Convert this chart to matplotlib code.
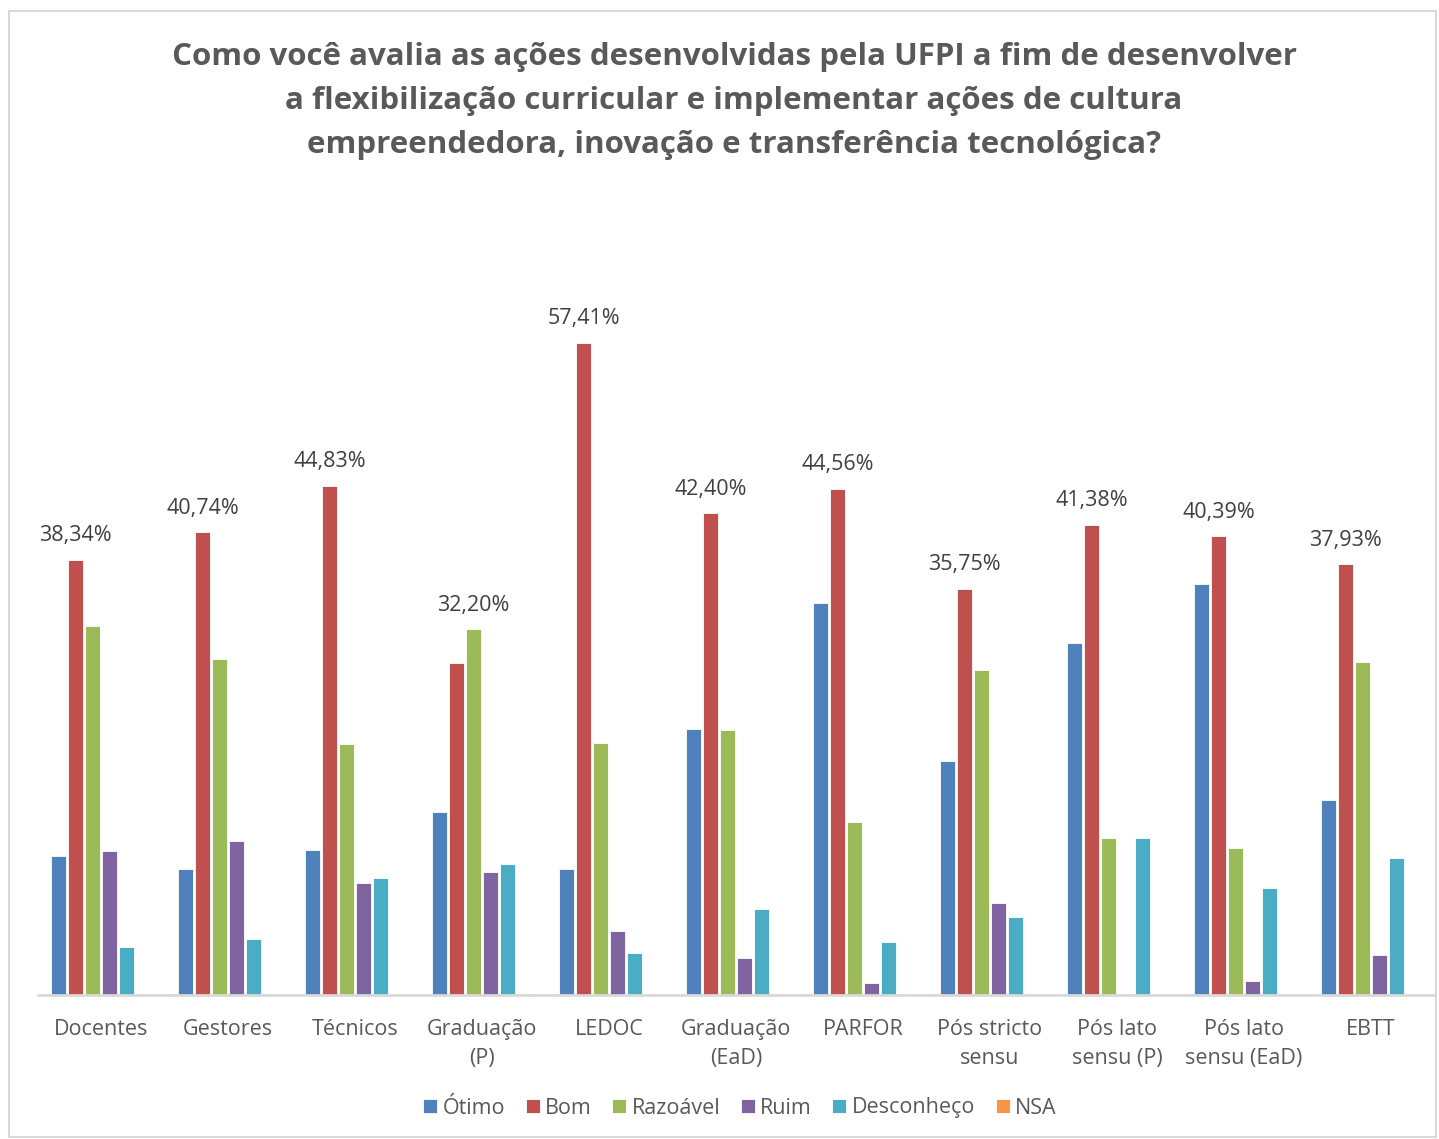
import numpy as np
import matplotlib.pyplot as plt
from matplotlib.patches import Rectangle

categories = ['Docentes', 'Gestores', 'Técnicos', 'Graduação\n(P)', 'LEDOC',
              'Graduação\n(EaD)', 'PARFOR', 'Pós stricto\nsensu',
              'Pós lato\nsensu (P)', 'Pós lato\nsensu (EaD)', 'EBTT']
series = ['Ótimo', 'Bom', 'Razoável', 'Ruim', 'Desconheço', 'NSA']

otimo = [12.25, 11.10, 12.80, 16.10, 11.10, 23.40, 34.50, 20.60, 31.00, 36.20, 17.20]
bom = [38.34, 40.74, 44.83, 29.25, 57.41, 42.40, 44.56, 35.75, 41.38, 40.39, 37.93]
razoavel = [32.50, 29.60, 22.10, 32.20, 22.20, 23.30, 15.20, 28.60, 13.80, 12.95, 29.30]
ruim = [12.70, 13.60, 9.90, 10.80, 5.60, 3.30, 1.10, 8.10, 0.00, 1.20, 3.50]
desconheco = [4.20, 4.90, 10.30, 11.50, 3.70, 7.60, 4.70, 6.90, 13.80, 9.40, 12.10]
nsa = [0, 0, 0, 0, 0, 0, 0, 0, 0, 0, 0]

colors = ['#4F81BD', '#C0504D', '#9BBB59', '#8064A2', '#4BACC6', '#F79646']

title = ('Como você avalia as ações desenvolvidas pela UFPI a fim de desenvolver\n'
         'a flexibilização curricular e implementar ações de cultura\n'
         'empreendedora, inovação e transferência tecnológica?')

plt.rcParams['font.family'] = ['Open Sans', 'DejaVu Sans']

W, H = 1439, 1139
fig = plt.figure(figsize=(W / 100, H / 100), dpi=100)
ax = fig.add_axes([37.5 / W, 1 - 995 / H, (1434.5 - 37.5) / W, (995 - 200) / H])

# chart border
fig.patches.append(Rectangle((9 / W, 2 / H), (1436 - 9) / W, (1128 - 2) / H,
                             transform=fig.transFigure, fill=False,
                             edgecolor='#D9D9D9', linewidth=1.5))

data = [otimo, bom, razoavel, ruim, desconheco, nsa]
x = np.arange(len(categories))
pitch = 0.134
width = 0.112
for j, (name, vals) in enumerate(zip(series, data)):
    ax.bar(x + (j - 2.5) * pitch, vals, width, color=colors[j], label=name,
           edgecolor='white', linewidth=0.6, zorder=2)

# label the highest bar in each group
arr = np.array(data)
for i in range(len(categories)):
    j = int(np.argmax(arr[:, i]))
    v = arr[j, i]
    ax.text(x[i] + (j - 2.5) * pitch, v + 1.2, f'{v:.2f}%'.replace('.', ','),
            ha='center', va='bottom', fontsize=15.5, color='#404040', clip_on=False)

ax.set_xlim(-0.5, len(categories) - 0.5)
ax.set_ylim(0, 70)
ax.set_yticks([])
ax.set_xticks(x)
ax.set_xticklabels(categories, fontsize=15.5, color='#595959', linespacing=1.55)
ax.tick_params(axis='x', length=0, pad=17)
for s in ['top', 'right', 'left']:
    ax.spines[s].set_visible(False)
ax.spines['bottom'].set_color('#D9D9D9')
ax.spines['bottom'].set_linewidth(2)

fig.text(734 / W, 1 - 101 / H, title, ha='center', va='center', fontsize=22.5,
         fontweight='bold', color='#595959', linespacing=1.63)

fig.legend(loc='center', bbox_to_anchor=(740 / W, 1 - 1108 / H), ncol=6,
           frameon=False, fontsize=15.5, labelcolor='#595959', handlelength=0.65,
           handleheight=0.65, handletextpad=0.25, columnspacing=0.95)

fig.savefig('out.png', dpi=100)
